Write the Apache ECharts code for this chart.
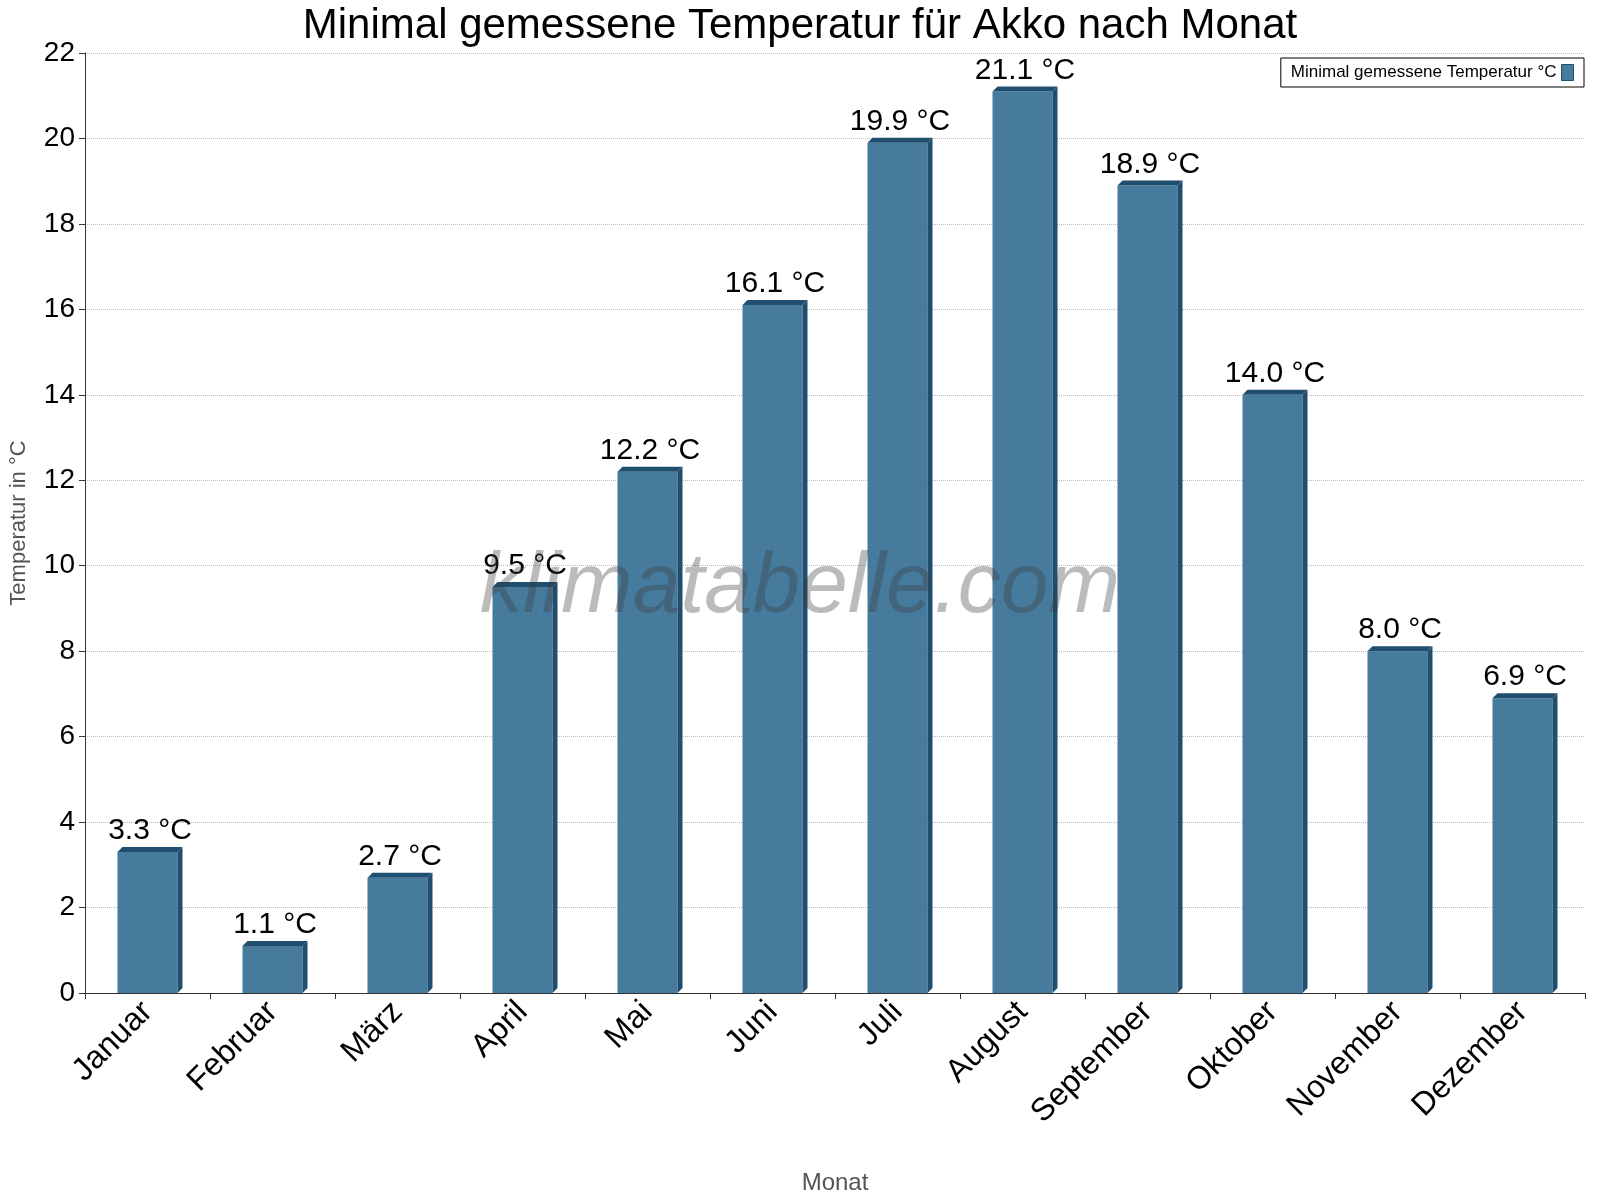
<!DOCTYPE html>
<html><head><meta charset="utf-8">
<script src="https://cdn.jsdelivr.net/npm/echarts@6/dist/echarts.min.js"></script>
<style>html,body{margin:0;padding:0;background:#fff}#c{width:1600px;height:1200px}</style>
</head><body><div id="c"></div>
<script>
const months = ['Januar','Februar','März','April','Mai','Juni','Juli','August','September','Oktober','November','Dezember'];
const minTemp = [3.3,1.1,2.7,9.5,12.2,16.1,19.9,21.1,18.9,14.0,8.0,6.9];
const yTicks = [0,2,4,6,8,10,12,14,16,18,20,22];

const chart = echarts.init(document.getElementById('c'));
const depth = 5;
chart.setOption({
  animation:false,
  title:{text:'Minimal gemessene Temperatur für Akko nach Monat',left:'center',top:0,
    textStyle:{fontFamily:'Liberation Sans',fontSize:42,fontWeight:'normal',color:'#000'}},
  legend:{right:16,top:58,orient:'horizontal',align:'right',itemWidth:12,itemHeight:16,
    borderColor:'#000',borderWidth:1,borderRadius:0,padding:[6,10],
    textStyle:{fontFamily:'Liberation Sans',fontSize:17,color:'#000'},
    data:[{name:'Minimal gemessene Temperatur °C',icon:'rect',itemStyle:{color:'#467b9e',borderColor:'#1f4e6e',borderWidth:1}}]},
  grid:{left:85,right:15,top:53,bottom:205,containLabel:false},
  graphic:[{type:'text',left:'center',top:545,z:100,style:{text:'klimatabelle.com',fontFamily:'Liberation Sans',fontStyle:'italic',fontSize:86,fill:'rgba(60,60,60,0.35)'}}],
  xAxis:{type:'category',data:months,name:'Monat',nameLocation:'middle',nameGap:178,
    nameTextStyle:{fontFamily:'Liberation Sans',fontSize:24,color:'#555'},
    axisLine:{lineStyle:{color:'#333'}},axisTick:{show:true,alignWithLabel:false,length:6,lineStyle:{color:'#333'}},
    axisLabel:{rotate:45,fontFamily:'Liberation Sans',fontSize:32,color:'#000',margin:14,interval:0}},
  yAxis:{type:'value',min:0,max:22,interval:2,name:'Temperatur in °C',nameLocation:'middle',nameGap:55,
    nameTextStyle:{fontFamily:'Liberation Sans',fontSize:22,color:'#555'},
    axisLine:{show:true,lineStyle:{color:'#333'}},axisTick:{show:true,length:6,lineStyle:{color:'#333'}},
    axisLabel:{fontFamily:'Liberation Sans',fontSize:28,color:'#000',margin:10,formatter:v=>yTicks.includes(v)?String(v):''},
    splitLine:{lineStyle:{color:'#bbb',type:'dotted'}}},
  series:[{name:'Minimal gemessene Temperatur °C',type:'custom',itemStyle:{color:'#467b9e'},
    data:minTemp.map((v,i)=>[i,v]),
    renderItem:function(params,api){
      const p=api.coord([api.value(0),api.value(1)]);
      const b=api.coord([api.value(0),0]);
      const w=api.size([1,0])[0]*0.48;
      const x0=p[0]-w/2, x1=p[0]+w/2, yT=p[1], yB=b[1];
      return {type:'group',children:[
        {type:'rect',shape:{x:x0,y:yT,width:w,height:yB-yT},style:{fill:'#467b9e'}},
        {type:'polygon',shape:{points:[[x0,yT],[x0+depth,yT-depth],[x1+depth,yT-depth],[x1,yT]]},style:{fill:'#1f4e6e'}},
        {type:'polygon',shape:{points:[[x1,yT],[x1+depth,yT-depth],[x1+depth,yB-depth],[x1,yB]]},style:{fill:'#1f4e6e'}},
        {type:'text',x:p[0]+depth/2,y:yT-depth-1,style:{text:api.value(1).toFixed(1)+' °C',fontFamily:'Liberation Sans',fontSize:30,fill:'#000',align:'center',verticalAlign:'bottom'}}
      ]};
    }}]
});
</script></body></html>
